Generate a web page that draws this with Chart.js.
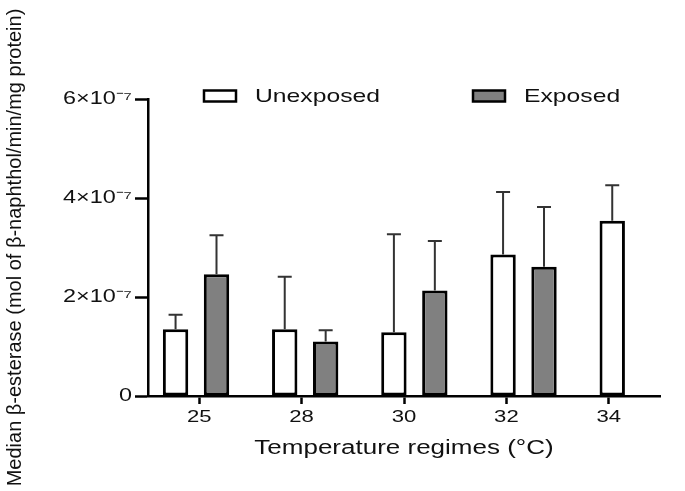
<!DOCTYPE html>
<html>
<head>
<meta charset="utf-8">
<script src="https://cdn.jsdelivr.net/npm/chart.js@4.4.1/dist/chart.umd.min.js"></script>
<style>
  html, body { margin: 0; padding: 0; background: #fff; }
  #wrap { width: 685px; height: 491px; }
</style>
</head>
<body>
<div id="wrap"><canvas id="c" width="685" height="491"></canvas></div>
<script>
// ---- data ----
const temps = ['25', '28', '30', '32', '34'];
const seriesNames = ['Unexposed', 'Exposed'];
const unexposed = [1.35e-7, 1.35e-7, 1.29e-7, 2.86e-7, 3.54e-7];
const exposed   = [2.46e-7, 1.10e-7, 2.13e-7, 2.61e-7, null];
const unexposedErr = [0.29e-7, 1.06e-7, 1.98e-7, 1.26e-7, 0.72e-7];
const exposedErr   = [0.79e-7, 0.23e-7, 1.00e-7, 1.21e-7, null];
const yTicks = [0, 2e-7, 4e-7, 6e-7];
const yTitle = 'Median β-esterase (mol of β-naphthol/min/mg protein)';
const xTitle = 'Temperature regimes (°C)';

// ---- horizontal text stretch (reference text is widened) ----
const SX = 1.3;
const canvas = document.getElementById('c');
const ctx = canvas.getContext('2d');
const origFill = ctx.fillText;
const origMeasure = ctx.measureText;
function isRotated(c) { const m = c.getTransform(); return Math.abs(m.b) > 1e-6 || Math.abs(m.c) > 1e-6; }
ctx.fillText = function (t, x, y, mw) {
  if (isRotated(this)) {
    return mw === undefined ? origFill.call(this, t, x, y) : origFill.call(this, t, x, y, mw);
  }
  this.save();
  this.translate(x, y);
  this.scale(SX, 1);
  if (mw === undefined) origFill.call(this, t, 0, 0); else origFill.call(this, t, 0, 0, mw / SX);
  this.restore();
};
ctx.measureText = function (t) {
  const m = origMeasure.call(this, t);
  return {
    width: m.width * SX,
    actualBoundingBoxLeft: m.actualBoundingBoxLeft * SX,
    actualBoundingBoxRight: m.actualBoundingBoxRight * SX,
    actualBoundingBoxAscent: m.actualBoundingBoxAscent,
    actualBoundingBoxDescent: m.actualBoundingBoxDescent,
    fontBoundingBoxAscent: m.fontBoundingBoxAscent,
    fontBoundingBoxDescent: m.fontBoundingBoxDescent
  };
};

const FONT = '"Liberation Sans", Arial, sans-serif';
const errs = [unexposedErr, exposedErr];

const errorBars = {
  id: 'errorBars',
  afterDatasetsDraw(chart) {
    const c = chart.ctx;
    const ys = chart.scales.y;
    chart.data.datasets.forEach((ds, di) => {
      const meta = chart.getDatasetMeta(di);
      meta.data.forEach((bar, i) => {
        const v = ds.data[i].y;
        const e = errs[di][i];
        if (v == null || e == null) return;
        const yTop = ys.getPixelForValue(v + e);
        const yBar = ys.getPixelForValue(v);
        c.save();
        c.strokeStyle = '#333';
        c.lineWidth = 2;
        c.beginPath();
        c.moveTo(bar.x, yBar);
        c.lineTo(bar.x, yTop);
        c.moveTo(bar.x - 7, yTop);
        c.lineTo(bar.x + 7, yTop);
        c.stroke();
        c.restore();
      });
    });
  }
};

const customLegend = {
  id: 'customLegend',
  afterDraw(chart) {
    const c = chart.ctx;
    const items = [{ bx: 204, tx: 255 }, { bx: 473, tx: 524 }];
    const cy = 96;
    c.save();
    c.font = '19px ' + FONT;
    c.textBaseline = 'middle';
    c.textAlign = 'left';
    chart.data.datasets.forEach((ds, i) => {
      const it = items[i];
      c.fillStyle = ds.backgroundColor;
      c.fillRect(it.bx, cy - 5.5, 32, 11);
      c.strokeStyle = '#000';
      c.lineWidth = 2.5;
      c.strokeRect(it.bx, cy - 5.5, 32, 11);
      c.fillStyle = '#111';
      c.fillText(ds.label, it.tx, cy + 1);
    });
    c.restore();
  }
};

new Chart(ctx, {
  type: 'bar',
  data: {
    datasets: [
      {
        label: seriesNames[0],
        data: unexposed.map((v, i) => ({ x: i, y: v })),
        backgroundColor: '#ffffff',
        borderColor: '#000000',
        borderWidth: 3,
        borderSkipped: false
      },
      {
        label: seriesNames[1],
        data: exposed.map((v, i) => ({ x: i, y: v })),
        backgroundColor: '#808080',
        borderColor: '#000000',
        borderWidth: 3,
        borderSkipped: false
      }
    ]
  },
  options: {
    responsive: false,
    animation: false,
    devicePixelRatio: 1,
    categoryPercentage: 0.75,
    barPercentage: 0.62,
    layout: { padding: { top: 99, right: 25, bottom: 0, left: 0 } },
    plugins: { legend: { display: false }, tooltip: { enabled: false } },
    scales: {
      x: {
        type: 'linear',
        min: -0.44,
        max: 4.25,
        display: false,
        offset: false,
        afterBuildTicks(s) { s.ticks = temps.map((t, i) => ({ value: i })); }
      },
      x2: {
        type: 'category',
        position: 'bottom',
        labels: temps,
        offset: true,
        afterFit(s) { s.height = 95; },
        border: { display: true, color: '#000', width: 2.5 },
        grid: { display: true, offset: false, drawOnChartArea: false, drawTicks: true, tickLength: 8, tickWidth: 2.5, tickColor: '#000' },
        ticks: { color: '#111', font: { family: FONT, size: 17 }, padding: 3, maxRotation: 0, autoSkip: false },
        title: { display: true, text: xTitle, color: '#111', font: { family: FONT, size: 20 }, padding: { top: 0, bottom: 31 } }
      },
      y: {
        type: 'linear',
        min: 0,
        max: 6e-7,
        afterFit(s) { s.width = 148; },
        afterBuildTicks(s) { s.ticks = yTicks.map(v => ({ value: v })); },
        border: { display: true, color: '#000', width: 2.5 },
        grid: { display: true, drawOnChartArea: false, drawTicks: true, tickLength: 13, tickWidth: 2.5, tickColor: '#000' },
        ticks: {
          color: '#111',
          font: { family: FONT, size: 18 },
          padding: 3,
          callback: (v) => v === 0 ? '0' : Math.round(v / 1e-7) + '×10⁻⁷'
        },
        title: { display: true, text: yTitle, color: '#111', font: { family: FONT, size: 20 }, padding: { top: 3, bottom: 0 } }
      }
    }
  },
  plugins: [errorBars, customLegend]
});
</script>
</body>
</html>
